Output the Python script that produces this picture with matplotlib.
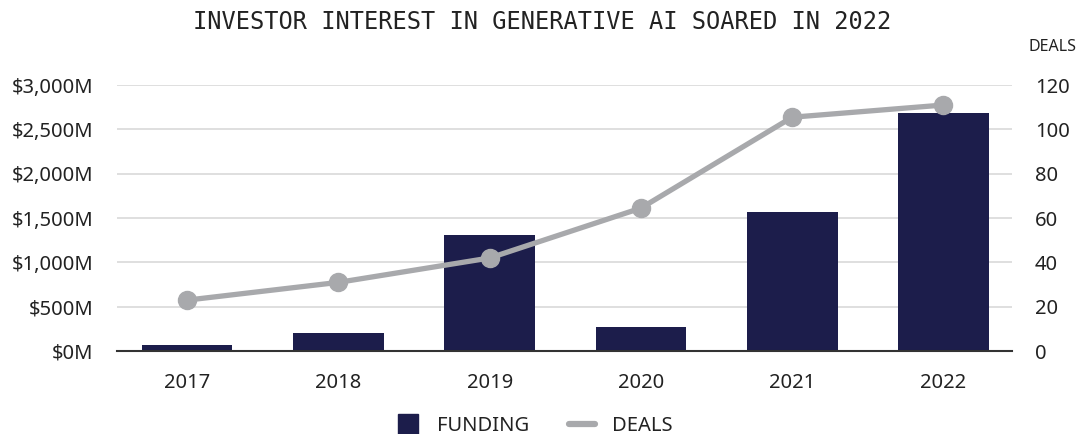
import matplotlib
matplotlib.use('Agg')
from matplotlib import pyplot as plt
from matplotlib.lines import Line2D

anos = ['2017', '2018', '2019', '2020', '2021', '2022']
funding = [70, 205, 1310, 270, 1570, 2680]  # milhoes de dolares
deals = [23, 31, 42, 64.5, 105.5, 111]

cor_barra = '#1c1d4b'
cor_linha = '#a8a9ac'
cor_texto = '#222222'

plt.rcParams['font.family'] = ['Noto Sans', 'DejaVu Sans']

fig = plt.figure(figsize=(10.84, 4.34), dpi=100)
ax = fig.add_axes([0.108, 0.191, 0.826, 0.613])
ax2 = ax.twinx()

x = range(len(anos))
ax.bar(x, funding, width=0.6, color=cor_barra, zorder=2)
ax2.plot(x, deals, color=cor_linha, lw=3.8, marker='o', markersize=13, zorder=3)

ax.set_xlim(-0.463, 5.456)
ax.set_ylim(0, 3000)
ax2.set_ylim(0, 120)
ax.set_yticks(range(0, 3001, 500))
ax.set_yticklabels([f'${v:,}M' for v in range(0, 3001, 500)])
ax2.set_yticks(range(0, 121, 20))
ax.set_xticks(list(x))
ax.set_xticklabels(anos)

ax.grid(axis='y', color='#d9d9d9', lw=1.2, zorder=0)
ax.set_axisbelow(True)
for a in (ax, ax2):
    for s in a.spines.values():
        s.set_visible(False)
    a.tick_params(length=0, labelsize=14.5, colors=cor_texto)
ax.spines['bottom'].set_visible(True)
ax.spines['bottom'].set_color('#333333')
ax.spines['bottom'].set_linewidth(1.5)
ax.tick_params(axis='x', pad=16)
ax.tick_params(axis='y', pad=17)
ax2.tick_params(axis='y', pad=16)

fig.text(0.5, 0.949, 'INVESTOR INTEREST IN GENERATIVE AI SOARED IN 2022',
         ha='center', va='center', fontsize=17, family='DejaVu Sans Mono', color=cor_texto)
fig.text(0.971, 0.892, 'DEALS', ha='center', va='center', fontsize=11.5, color=cor_texto)

handles = [Line2D([], [], ls='none', marker='s', markersize=14, color=cor_barra),
           Line2D([], [], color=cor_linha, lw=4.5, solid_capstyle='round')]
fig.legend(handles, ['FUNDING', 'DEALS'], loc='center', bbox_to_anchor=(0.492, 0.019),
           ncol=2, frameon=False, fontsize=14.5, handlelength=1.3, handletextpad=0.8,
           columnspacing=2.0, labelcolor=cor_texto)

plt.savefig('out.png', dpi=100)
